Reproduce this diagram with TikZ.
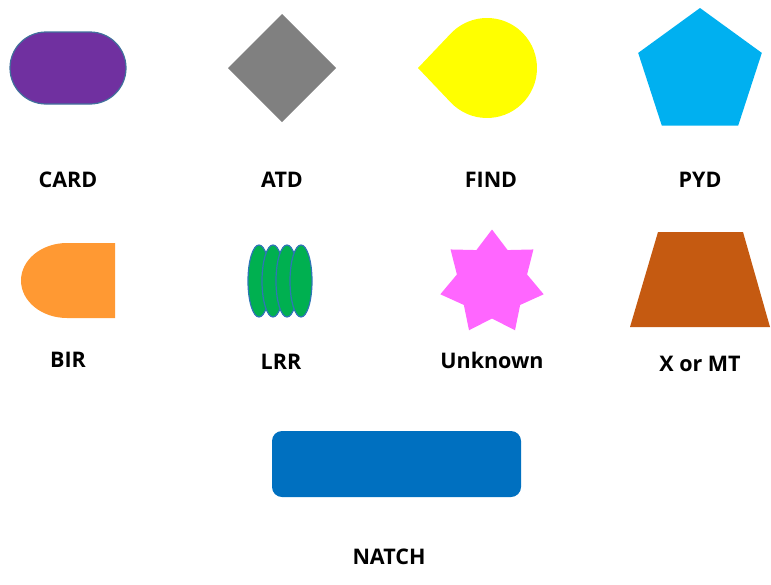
\documentclass[tikz,border=0pt]{standalone}
\usepackage{fontspec}
\setmainfont{Open Sans}
\usetikzlibrary{calc}

\definecolor{cardfill}{HTML}{7030A0}
\definecolor{cardline}{HTML}{41719C}
\definecolor{atdfill}{HTML}{808080}
\definecolor{findfill}{HTML}{FFFF00}
\definecolor{pydfill}{HTML}{00B0F0}
\definecolor{birfill}{HTML}{FF9933}
\definecolor{lrrfill}{HTML}{00B050}
\definecolor{lrrline}{HTML}{2E75B6}
\definecolor{unkfill}{HTML}{FF66FF}
\definecolor{xmtfill}{HTML}{C55A11}
\definecolor{natchfill}{HTML}{0070C0}

\begin{document}
\begin{tikzpicture}[
  x=1pt, y=-1pt,
  lbl/.style={anchor=base, inner sep=0pt, font=\fontsize{21.5}{25}\selectfont\bfseries}
]
\useasboundingbox (0,0) rectangle (771,584);

% first row
\filldraw[fill=cardfill, draw=cardline, line width=1.2pt, rounded corners=36pt]
  (10,32) rectangle (126,104);
\fill[atdfill] (282,14) -- (336,68) -- (282,122) -- (228,68) -- cycle;
\coordinate (cF) at (487,68);
\coordinate (tipF) at (418,68);
\fill[findfill] (tipF) -- ($(cF)+(136.44:50)$)
  arc[start angle=136.44, end angle=-136.44, radius=50] -- cycle;
\coordinate (cP) at (700,73);
\fill[pydfill] ($(cP)+(-90:65)$)
  \foreach \k in {1,...,4} { -- ($(cP)+({-90+\k*72}:65)$) } -- cycle;

\node[lbl] (cardlbl) at (68,187)  {CARD};
\node[lbl] (atdlbl)  at (282,187) {ATD};
\node[lbl] (findlbl) at (491,187) {FIND};
\node[lbl] (pydlbl)  at (700,187) {PYD};

% second row
\fill[birfill] (115,243) -- (67,243)
  arc[start angle=270, end angle=90, x radius=46, y radius=37.5]
  -- (115,318) -- cycle;
\foreach \cx in {259,273,287,301}
  \filldraw[fill=lrrfill, draw=lrrline, line width=1.2pt] (\cx,281) ellipse[x radius=11, y radius=36];
\coordinate (cU) at (492,282.5);
\fill[unkfill] ($(cU)+(-90:53)$)
  \foreach \k in {0,...,6} { -- ($(cU)+({-90+\k*360/7}:53)$) -- ($(cU)+({-90+\k*360/7+360/14}:36)$) } -- cycle;
\fill[xmtfill] (658,232) -- (743,232) -- (770,327) -- (630,327) -- cycle;

\node[lbl] (birlbl) at (68,367)  {BIR};
\node[lbl] (lrrlbl) at (281,369) {LRR};
\node[lbl] (unklbl) at (492,368) {Unknown};
\node[lbl] (xmtlbl) at (700,371) {X or MT};

% bottom
\fill[natchfill, rounded corners=10pt] (272,431) rectangle (521,497);
\node[lbl] (natchlbl) at (389,564) {NATCH};

\end{tikzpicture}
\end{document}
